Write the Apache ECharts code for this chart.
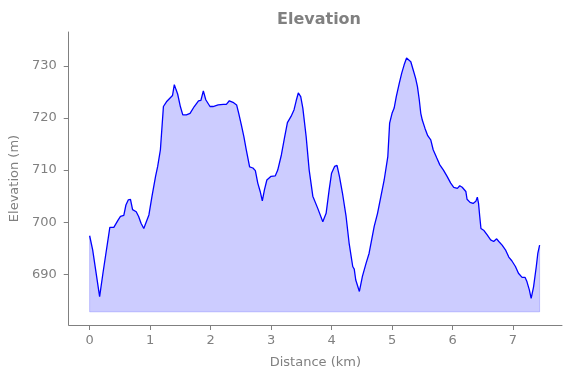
<!DOCTYPE html>
<html>
<head>
<meta charset="utf-8">
<script src="https://cdn.jsdelivr.net/npm/echarts@6/dist/echarts.min.js"></script>
<style>
  html, body { margin: 0; padding: 0; background: #fff; }
  #chart { width: 571px; height: 378px; }
</style>
</head>
<body>
<div id="chart"></div>
<script>
// distance along the route (km)
const distanceKm = [
  0.0, 0.05, 0.165, 0.22, 0.334, 0.40, 0.43, 0.47, 0.51, 0.565, 0.60, 0.64, 0.675, 0.71, 0.77,
  0.81, 0.85, 0.895, 0.98, 1.03, 1.09, 1.125, 1.17, 1.22, 1.27, 1.37, 1.40, 1.43, 1.455, 1.50,
  1.54, 1.60, 1.66, 1.73, 1.80, 1.84, 1.88, 1.92, 1.99, 2.04, 2.125, 2.21, 2.26, 2.31, 2.37,
  2.43, 2.465, 2.51, 2.55, 2.59, 2.645, 2.70, 2.74, 2.78, 2.82, 2.855, 2.89, 2.93, 3.0, 3.07,
  3.11, 3.17, 3.22, 3.27, 3.33, 3.38, 3.415, 3.45, 3.49, 3.525, 3.58, 3.63, 3.69, 3.77, 3.855,
  3.91, 3.96, 4.0, 4.05, 4.09, 4.13, 4.18, 4.24, 4.29, 4.35, 4.375, 4.40, 4.46, 4.51, 4.57,
  4.62, 4.705, 4.76, 4.815, 4.87, 4.93, 4.96, 5.0, 5.035, 5.07, 5.12, 5.16, 5.20, 5.24, 5.27,
  5.31, 5.35, 5.39, 5.42, 5.45, 5.475, 5.50, 5.545, 5.59, 5.64, 5.68, 5.74, 5.79, 5.85, 5.91,
  5.97, 6.02, 6.08, 6.12, 6.16, 6.19, 6.22, 6.24, 6.29, 6.34, 6.385, 6.41, 6.43, 6.45, 6.47,
  6.52, 6.57, 6.63, 6.68, 6.73, 6.765, 6.82, 6.875, 6.93, 6.98, 7.04, 7.09, 7.15, 7.20, 7.23,
  7.27, 7.30, 7.34, 7.385, 7.41, 7.44
];
// elevation (m)
const elevationM = [
  697.4, 694.7, 685.7, 690.2, 699.0, 699.0, 699.3, 700.4, 701.1, 701.3, 703.3, 704.3, 704.4, 702.4, 702.0,
  701.1, 699.8, 698.8, 701.4, 704.9, 708.8, 710.7, 713.9, 722.2, 723.1, 724.3, 726.4, 725.4, 724.6, 722.2,
  720.6, 720.6, 720.9, 722.2, 723.3, 723.4, 725.2, 723.5, 722.2, 722.2, 722.5, 722.6, 722.6, 723.3, 723.0,
  722.5, 720.9, 718.6, 716.4, 713.9, 710.6, 710.4, 709.9, 707.5, 705.9, 704.1, 706.2, 708.1, 708.8, 708.9,
  710.0, 712.9, 716.1, 719.1, 720.3, 721.6, 723.3, 724.8, 724.1, 721.9, 716.4, 710.0, 705.0, 702.7, 700.1,
  701.7, 706.2, 709.4, 710.7, 710.9, 708.8, 705.6, 701.1, 696.0, 691.5, 691.0, 688.9, 686.7, 689.6, 692.1,
  694.0, 699.2, 701.7, 704.9, 708.1, 712.6, 719.0, 720.9, 721.9, 724.1, 726.7, 728.6, 730.2, 731.5, 731.7,
  730.8, 729.2, 727.6, 726.0, 723.5, 720.9, 719.6, 718.0, 716.6, 715.8, 713.9, 712.3, 711.0, 710.0, 708.8,
  707.5, 706.7, 706.5, 707.0, 706.7, 706.8, 705.9, 704.4, 703.8, 703.6, 704.0, 704.8, 703.6, 701.1, 698.8,
  698.4, 697.6, 696.6, 696.3, 696.8, 696.3, 695.6, 694.7, 693.3, 692.6, 691.5, 690.2, 689.4, 689.4, 688.6,
  687.0, 685.4, 687.6, 691.5, 694.0, 695.6
];
const fillBase = 682.8;
const xTicks = [0, 1, 2, 3, 4, 5, 6, 7];
const yTicks = [690, 700, 710, 720, 730];

const profile = distanceKm.map((d, i) => [d, elevationM[i]]);
const last = distanceKm.length - 1;
// outline of the filled area (left edge, floor, right edge)
const fillEdge = [
  [distanceKm[0], elevationM[0]],
  [distanceKm[0], fillBase],
  [distanceKm[last], fillBase],
  [distanceKm[last], elevationM[last]]
];

const grey = '#808080';
const font = 'DejaVu Sans';

const chart = echarts.init(document.getElementById('chart'));
chart.setOption({
  animation: false,
  title: {
    text: 'Elevation',
    left: 314, top: 7, textAlign: 'center',
    textStyle: { color: grey, fontSize: 16, fontWeight: 'bold', fontFamily: font }
  },
  grid: { left: 66.5, right: 9, top: 32, bottom: 53 },
  xAxis: {
    type: 'value',
    min: -0.346, max: 7.81,
    name: 'Distance (km)', nameLocation: 'middle', nameGap: 31,
    nameTextStyle: { color: grey, fontSize: 13, fontFamily: font },
    axisLine: { show: true, onZero: false, lineStyle: { color: grey, width: 1 } },
    axisTick: { show: true, length: 5, customValues: xTicks, lineStyle: { color: grey } },
    axisLabel: { customValues: xTicks, color: grey, fontSize: 13, fontFamily: font, margin: 9 },
    splitLine: { show: false }
  },
  yAxis: {
    type: 'value',
    min: 680.27, max: 736.5,
    name: 'Elevation (m)', nameLocation: 'middle', nameGap: 42,
    nameTextStyle: { color: grey, fontSize: 13, fontFamily: font },
    axisLine: { show: true, onZero: false, lineStyle: { color: grey, width: 1 } },
    axisTick: { show: true, length: 5, customValues: yTicks, lineStyle: { color: grey } },
    axisLabel: { customValues: yTicks, color: grey, fontSize: 13, fontFamily: font, margin: 12 },
    splitLine: { show: false }
  },
  series: [
    {
      type: 'line',
      data: profile,
      showSymbol: false,
      lineStyle: { color: '#0000ff', width: 1.3 },
      areaStyle: { color: 'rgba(0,0,255,0.2)', origin: fillBase, opacity: 1 },
      z: 3
    },
    {
      type: 'line',
      data: fillEdge,
      showSymbol: false,
      lineStyle: { color: 'rgba(0,0,255,0.2)', width: 1 },
      z: 2
    }
  ]
});
</script>
</body>
</html>
